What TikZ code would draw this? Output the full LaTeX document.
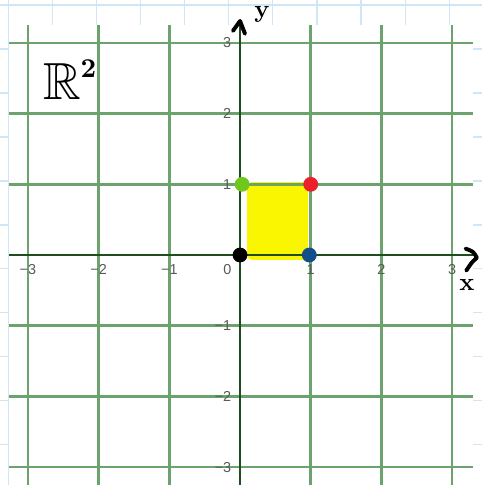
\documentclass[tikz,border=0pt]{standalone}
\usepackage{amsmath}
\usepackage{amssymb}
\usepackage{fontspec}
\setsansfont{Liberation Sans}
\usetikzlibrary{
  arrows.meta,
  positioning
}
\definecolor{planeGreen}{RGB}{108,162,108}
\definecolor{axisGreen}{RGB}{30,78,30}
\definecolor{paperBlue}{RGB}{208,230,244}
\definecolor{unitYellow}{RGB}{250,245,0}
\definecolor{dotGreen}{RGB}{112,200,30}
\definecolor{dotRed}{RGB}{234,32,42}
\definecolor{dotBlue}{RGB}{18,78,138}
\tikzset{
  paperLine/.style={
    draw=paperBlue,
    line width=0.5pt
  },
  gridLine/.style={
    draw=planeGreen,
    line width=1.1pt
  },
  axisLine/.style={
    draw=axisGreen,
    line width=0.9pt
  },
  tickLabel/.style={
    font=\sffamily\fontsize{5.8}{6}\selectfont,
    text=black!65,
    inner sep=0.5pt
  },
  cornerDot/.style={
    circle,
    minimum size=0.21cm,
    inner sep=0pt
  },
  penStroke/.style={
    draw=black,
    line width=1.6pt,
    line cap=round,
    line join=round
  },
  penLabel/.style={
    font=\bfseries\fontsize{10}{11}\selectfont,
    inner sep=0pt
  }
}

\begin{document}
\begin{tikzpicture}
  \useasboundingbox (-3.395,-3.253) rectangle (3.423,3.607);
  \fill[white] (-3.395,-3.253) rectangle (3.423,3.607);

  % squared paper behind the board
  \foreach \i in {0,...,10}
    \draw[paperLine] ({-3.28+0.624*\i},-3.253) -- ++(0,6.86);
  \foreach \j in {0,...,10}
    \draw[paperLine] (-3.395,{3.536-0.622*\j}) -- ++(6.818,0);
  \fill[white] (-3.267,-3.3) rectangle (3.296,3.253);

  % the unit square
  \fill[unitYellow, rounded corners=2pt] (0.1,-0.07) rectangle (0.96,1.03);

  % grid
  \foreach \k in {-3,...,3} {
    \draw[gridLine] (\k,-3.253) -- (\k,3.253);
    \draw[gridLine] (-3.267,\k) -- (3.296,\k);
  }

  % axes
  \coordinate (xStart) at (-3.267,0);
  \coordinate (xEnd) at (3.296,0);
  \coordinate (yStart) at (0,-3.253);
  \coordinate (yEnd) at (0,3.253);
  \draw[axisLine] (xStart) -- (xEnd);
  \draw[axisLine] (yStart) -- (yEnd);

  % tick labels
  \foreach \k/\t in {-3/−3,-2/−2,-1/−1,1/1,2/2,3/3}
    \node[tickLabel] (xtick\k) at (\k,-0.21) {\t};
  \foreach \k/\t in {-3/−3,-2/−2,-1/−1,1/1,2/2,3/3}
    \node[tickLabel, anchor=east] (ytick\k) at (-0.1,\k) {\t};
  \node[tickLabel] (origin) at (-0.18,-0.21) {0};

  % hand-drawn arrow heads and names
  \coordinate (yTip) at (0,3.31);
  \draw[penStroke] ([shift={(-0.1,-0.14)}]yTip) -- (yTip) -- ([shift={(0.07,-0.18)}]yTip);
  \node[penLabel] (yName) at (0.31,3.4) {y};
  \coordinate (xTip) at (3.35,-0.04);
  \draw[penStroke] (3.19,0.09) .. controls (3.3,0.05) .. (xTip)
    .. controls (3.28,-0.1) .. (3.2,-0.22);
  \node[penLabel] (xName) at (3.21,-0.42) {x};
  \node[font=\fontsize{21}{24}\selectfont, inner sep=0pt] (plane) at (-2.4,2.48) {$\boldsymbol{\mathbb{R}}^{\scriptscriptstyle\boldsymbol{2}}$};

  % corners of the square
  \node[cornerDot, fill=black] (p00) at (0,0) {};
  \node[cornerDot, fill=dotBlue] (p10) at (0.98,0) {};
  \node[cornerDot, fill=dotGreen] (p01) at (0.03,1) {};
  \node[cornerDot, fill=dotRed] (p11) at (1,1) {};
\end{tikzpicture}
\end{document}
